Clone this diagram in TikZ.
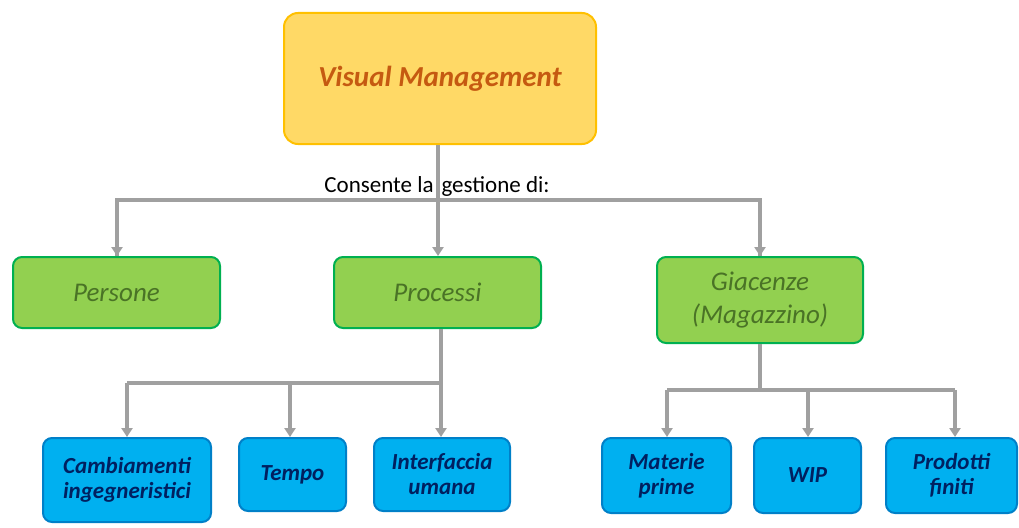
\documentclass[tikz,border=0pt]{standalone}
\usepackage{fontspec}
\setmainfont{Carlito}
\usetikzlibrary{arrows.meta}
\definecolor{vmfill}{HTML}{FFD966}
\definecolor{vmdraw}{HTML}{FFC000}
\definecolor{vmtext}{HTML}{C55A11}
\definecolor{grfill}{HTML}{92D050}
\definecolor{grdraw}{HTML}{00B050}
\definecolor{grtext}{HTML}{4A7326}
\definecolor{blfill}{HTML}{00B0F0}
\definecolor{bldraw}{HTML}{0080C8}
\definecolor{bltext}{HTML}{002060}
\definecolor{link}{HTML}{A0A0A0}
\begin{document}
\begin{tikzpicture}[x=1pt,y=-1pt,
  box/.style={rounded corners=9pt, line width=2pt, align=center, inner sep=0pt, anchor=north west},
  topbox/.style={box, fill=vmfill, draw=vmdraw, rounded corners=14pt, text=vmtext, font=\fontsize{29}{34}\selectfont\bfseries\itshape},
  midbox/.style={box, fill=grfill, draw=grdraw, text=grtext, font=\fontsize{27}{33}\selectfont\itshape},
  lowbox/.style={box, fill=blfill, draw=bldraw, text=bltext, font=\fontsize{23}{25}\selectfont\bfseries\itshape},
  conn/.style={draw=link, line width=3.5pt},
  arr/.style={conn, -{Triangle[length=9pt,width=11pt]}}]
\useasboundingbox (0,0) rectangle (1019,527);
\fill[white] (0,0) rectangle (1019,527);

% root
\node[topbox, minimum width=312pt, minimum height=131pt] (vm) at (283,12) {Visual Management};

% second level
\node[midbox, minimum width=207pt, minimum height=71pt] (pers) at (12,256) {Persone};
\node[midbox, minimum width=207pt, minimum height=71pt] (proc) at (333,256) {Processi};
\node[midbox, minimum width=206pt, minimum height=86pt] (giac) at (656,256) {Giacenze\\(Magazzino)};

% third level
\node[lowbox, minimum width=168pt, minimum height=84pt] (camb) at (42,437) {Cambiamenti\\ingegneristici};
\node[lowbox, minimum width=107pt, minimum height=73pt] (temp) at (238,437) {Tempo};
\node[lowbox, minimum width=136pt, minimum height=73pt] (inte) at (373,437) {Interfaccia\\umana};
\node[lowbox, minimum width=129pt, minimum height=75pt] (mate) at (601,437) {Materie\\prime};
\node[lowbox, minimum width=107pt, minimum height=75pt] (wip) at (753,437) {WIP};
\node[lowbox, minimum width=131pt, minimum height=75pt] (prod) at (885,437) {Prodotti\\finiti};

% branch points
\coordinate (j1) at (438,200);
\coordinate (j2) at (441,383);
\coordinate (j3) at (760,390);

% level 1 -> level 2
\node[font=\fontsize{23}{27}\selectfont, inner sep=0pt] (lbl) at (437,186) {Consente la\hspace{8pt}gestione di:};
\draw[conn] (vm.south -| j1) -- (j1);
\draw[conn] (pers.north -| 117,0) |- (j1) -- (j3 |- j1) -- (giac.north -| j3);
\draw[arr] (117,200) -- (pers.north -| 117,0);
\draw[arr] (j1) -- (proc.north -| j1);
\draw[arr] (760,200) -- (giac.north -| j3);

% Processi -> children
\draw[conn] (proc.south -| j2) -- (j2) -- (127,383);
\draw[arr] (127,383) -- (camb.north -| 127,0);
\draw[arr] (290,383) -- (temp.north -| 290,0);
\draw[arr] (j2) -- (inte.north -| j2);

% Giacenze -> children
\draw[conn] (giac.south -| j3) -- (j3);
\draw[conn] (667,390) -- (955,390);
\draw[arr] (667,390) -- (mate.north -| 667,0);
\draw[arr] (808,390) -- (wip.north -| 808,0);
\draw[arr] (955,390) -- (prod.north -| 955,0);
\end{tikzpicture}
\end{document}
